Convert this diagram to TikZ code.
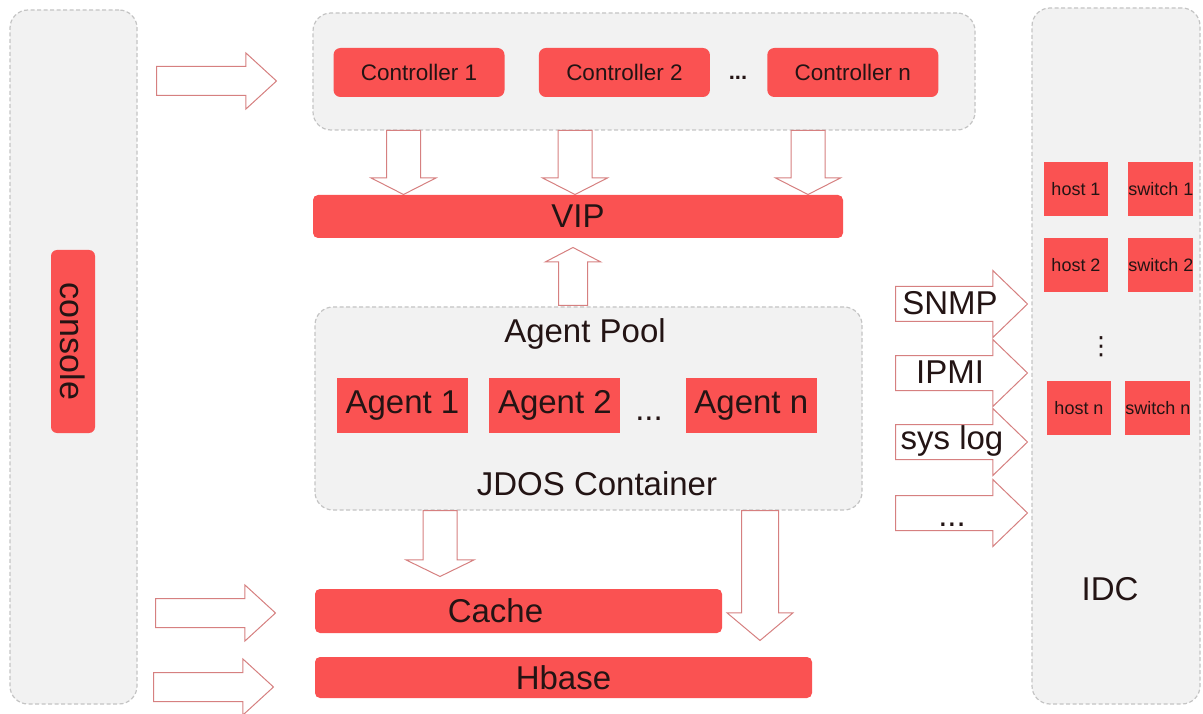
\documentclass[tikz,border=0pt]{standalone}
\usepackage{fontspec}
\setmainfont{Liberation Sans}
\newfontfamily\symfont{DejaVu Sans}
\usetikzlibrary{positioning,shapes.arrows}

\definecolor{boxred}{RGB}{250,82,82}
\definecolor{panelgray}{RGB}{242,242,242}
\definecolor{panelline}{RGB}{196,196,196}
\definecolor{arrowline}{RGB}{214,128,128}
\definecolor{textdark}{RGB}{35,20,20}

\begin{document}
\begin{tikzpicture}[
	x=1pt, y=-1pt,
	every node/.style={font=\fontsize{33}{38}\selectfont, text=textdark},
	panel/.style={rectangle, draw=panelline, dash pattern=on 4pt off 2.5pt, line width=1.2pt, fill=panelgray, rounded corners=18pt},
	redbox/.style={rectangle, fill=boxred, inner sep=0pt, rounded corners=5pt},
	ctrlbox/.style={redbox, minimum width=171pt, minimum height=49pt, rounded corners=7pt, font=\fontsize{22.5}{26}\selectfont},
	agentbox/.style={rectangle, fill=boxred, inner sep=0pt, minimum width=131pt, minimum height=55pt},
	hostbox/.style={rectangle, fill=boxred, inner sep=0pt, minimum width=64pt, minimum height=54pt, font=\fontsize{18}{20}\selectfont},
	blockarrow/.style={single arrow, draw=arrowline, fill=white, line width=1pt, single arrow head indent=0pt, anchor=tail},
	sidearrow/.style={blockarrow, inner sep=14pt, minimum height=120pt, single arrow head extend=13.5pt, single arrow tip angle=85},
	downarrow/.style={blockarrow, shape border rotate=270},
	protoarrow/.style={blockarrow, inner sep=17pt, minimum height=132pt, single arrow head extend=16pt, single arrow tip angle=88}
	]
\useasboundingbox (0,0) rectangle (1203,714);

% Console
\node [panel, minimum width=127pt, minimum height=694pt] (console panel) at (73.5,357) {};
\node [redbox, rotate=-90, minimum width=183pt, minimum height=44pt, rounded corners=6pt, font=\fontsize{34}{40}\selectfont] (console) at (73,341.5) {console};

\node [sidearrow] (to ctrl) at (156,81) {};
\node [sidearrow] (to cache) at (155,613) {};
\node [sidearrow] (to hbase) at (153,687) {};

% Controllers
\node [panel, minimum width=662pt, minimum height=117pt] (ctrl pool) at (644,71.5) {};
\node [ctrlbox] (ctrl1) at (419,72.5) {Controller 1};
\node [ctrlbox, right=34pt of ctrl1] (ctrl2) {Controller 2};
\node [anchor=base, font=\bfseries\fontsize{22}{26}\selectfont] (ctrl dots) at (738,80) {...};
\node [ctrlbox, right=57pt of ctrl2] (ctrln) {Controller n};

\node [downarrow, inner sep=16.5pt, minimum height=64pt, single arrow head extend=15.5pt, single arrow tip angle=126] (down1) at (403.5,130) {};
\node [downarrow, inner sep=16.5pt, minimum height=64pt, single arrow head extend=15.5pt, single arrow tip angle=126] (down2) at (575,130) {};
\node [downarrow, inner sep=16.5pt, minimum height=64pt, single arrow head extend=15.5pt, single arrow tip angle=126] (downn) at (808,130) {};

% VIP
\node [redbox, minimum width=530pt, minimum height=43pt] (vip) at (578,216.5) {VIP};
\node [blockarrow, shape border rotate=90, inner sep=14pt, minimum height=58pt, single arrow head extend=13pt, single arrow tip angle=125] (up) at (573,306) {};

% Agents
\node [panel, minimum width=547pt, minimum height=203pt] (agent pool) at (588.5,408.5) {};
\node (pool label) at (585,334) {Agent Pool};
\node [agentbox] (agent1) at (402.5,405.5) {Agent 1};
\node [agentbox, right=21pt of agent1] (agent2) {Agent 2};
\node [anchor=base] (agent dots) at (649,420) {...};
\node [agentbox, right=65pt of agent2] (agentn) {Agent n};
\node (jdos) at (597,484) {JDOS Container};

\node [downarrow, inner sep=16.5pt, minimum height=66pt, single arrow head extend=17pt, single arrow tip angle=128] (down cache) at (440,510) {};
\node [downarrow, inner sep=18pt, minimum height=130pt, single arrow head extend=14.5pt, single arrow tip angle=100] (down hbase) at (760,510) {};

% Storage
\node [redbox, minimum width=407pt, minimum height=44pt] (cache) at (518.5,611) {Cache\hspace*{46pt}};
\node [redbox, minimum width=497pt, minimum height=41pt] (hbase) at (563.5,677.5) {Hbase};

% Protocols
\node [protoarrow] (snmp arrow) at (895,304) {};
\node [protoarrow] (ipmi arrow) at (895,373) {};
\node [protoarrow] (syslog arrow) at (895,442) {};
\node [protoarrow] (more arrow) at (895,513) {};
\node (snmp) at (950,303) {SNMP};
\node (ipmi) at (950,372) {IPMI};
\node (syslog) at (952,441) {sys log};
\node [anchor=base] (more) at (952,526) {...};

% IDC
\node [panel, minimum width=168pt, minimum height=696pt] (idc panel) at (1116,356) {};
\node [hostbox] (host1) at (1076,189) {host 1};
\node [hostbox, right=20pt of host1] (switch1) {switch 1};
\node [hostbox, below=22pt of host1] (host2) {host 2};
\node [hostbox, right=20pt of host2] (switch2) {switch 2};
\node [font=\symfont\fontsize{25}{28}\selectfont] (idc dots) at (1101,347) {⋮};
\node [hostbox] (hostn) at (1079,408) {host n};
\node [hostbox, right=14pt of hostn] (switchn) {switch n};
\node (idc) at (1110,589) {IDC};

\end{tikzpicture}
\end{document}
